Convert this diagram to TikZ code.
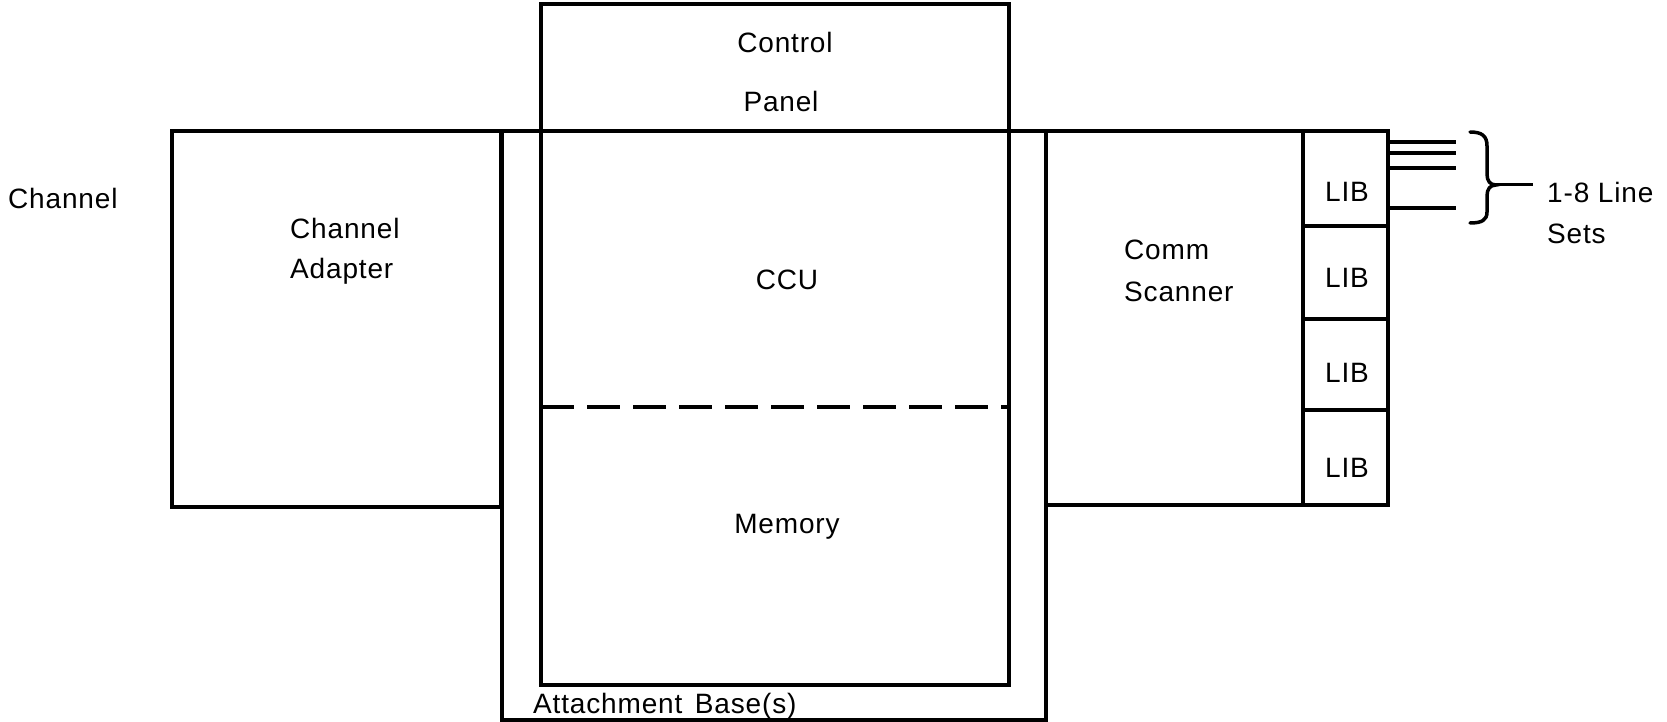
\documentclass[tikz,border=0pt]{standalone}
\usepackage{fontspec}
\setmainfont{Liberation Sans}[LetterSpace=3]
\usetikzlibrary{calc}
\begin{document}
\begin{tikzpicture}[x=1pt,y=-1pt,
  box/.style={draw, line width=4pt, inner sep=0pt, outer sep=0pt, anchor=north west},
  lbl/.style={inner sep=0pt, font=\fontsize{28}{34}\selectfont},
  ln/.style={line width=4pt},
  brc/.style={line width=3.5pt, line cap=round}]
\useasboundingbox[fill=white] (0,0) rectangle (1667,722);

% boxes
\node[box, minimum width=329pt, minimum height=376pt] (ca) at (172,131) {};
\node[box, minimum width=544pt, minimum height=589pt] (ab) at (502,131) {};
\node[box, minimum width=468pt, minimum height=681pt] (cpu) at (541,4) {};
\node[box, minimum width=257pt, minimum height=374pt] (cs) at (1046,131) {};
\node[box, minimum width=85pt, minimum height=95pt] (lib1) at (1303,131) {};
\node[box, minimum width=85pt, minimum height=93pt] (lib2) at (1303,226) {};
\node[box, minimum width=85pt, minimum height=91pt] (lib3) at (1303,319) {};
\node[box, minimum width=85pt, minimum height=95pt] (lib4) at (1303,410) {};

% dashed divider CCU / Memory
\coordinate (dl) at (cpu.west |- 0,407);
\coordinate (dr) at (cpu.east |- 0,407);
\draw[ln, dash pattern=on 33pt off 13pt] (dl) -- (dr);

% line sets
\foreach \yy/\nm in {142/a,153/b,168/c,208/d}{
  \coordinate (s\nm) at (lib1.east |- 0,\yy);
  \coordinate (e\nm) at (1456,\yy);
  \draw[line width=3.5pt] (s\nm) -- (e\nm);
}

% brace
\coordinate (btip) at (1496,185);
\coordinate (bend) at (1533,185);
\draw[brc] (1470,132) .. controls (1482,132) and (1487,136) .. (1487,146)
  -- (1487,174) .. controls (1487,181) and (1490,185) .. (btip)
  .. controls (1490,185) and (1487,189) .. (1487,196)
  -- (1487,212) .. controls (1487,220) and (1482,223) .. (1470,223);
\draw[line width=3pt] (btip) -- (bend);

% labels
\node[lbl, anchor=base west] (tchan) at (8,208) {Channel};
\node[lbl, anchor=base west] (tca1) at (290,238) {Channel};
\node[lbl, anchor=base west] (tca2) at (290,278) {Adapter};
\node[lbl, anchor=base] (tcp1) at (785,53) {Control};
\node[lbl, anchor=base] (tcp2) at (781,112) {Panel};
\node[lbl, anchor=base] (tccu) at (787,289) {CCU};
\node[lbl, anchor=base] (tmem) at (787,533) {Memory};
\node[lbl, anchor=base west] (tab) at (533,713) {Attachment\hspace{0.45em}Base(s)};
\node[lbl, anchor=base west] (tcs1) at (1124,259) {Comm};
\node[lbl, anchor=base west] (tcs2) at (1124,301) {Scanner};
\node[lbl, anchor=base] (tl1) at (1347,202) {LIB};
\node[lbl, anchor=base] (tl2) at (1347,287) {LIB};
\node[lbl, anchor=base] (tl3) at (1347,382) {LIB};
\node[lbl, anchor=base] (tl4) at (1347,477) {LIB};
\node[lbl, anchor=base west] (tls1) at (1547,203) {1-8 Line};
\node[lbl, anchor=base west] (tls2) at (1547,243) {Sets};
\end{tikzpicture}
\end{document}
